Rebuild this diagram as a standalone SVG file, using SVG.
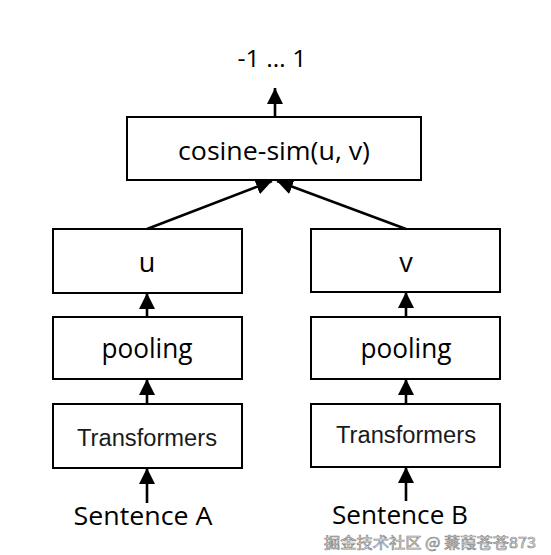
<svg xmlns="http://www.w3.org/2000/svg" width="551" height="555" viewBox="0 0 551 555">
<style>
.box{fill:#fff;stroke:#000;stroke-width:2}
.c{font-family:"Open Sans","Liberation Sans",sans-serif;fill:#000;text-anchor:middle}
.a{font-family:"Liberation Sans",Arial,sans-serif;fill:#1a1a1a;text-anchor:middle}
.ln{stroke:#000;stroke-width:2.6;fill:none}
.wm{font-family:"Noto Sans CJK SC","Liberation Sans",sans-serif;fill:#fff;stroke:#8a8a8a;stroke-width:0.7;font-size:15px}
</style>
<defs>
<marker id="ah" viewBox="0 0 10 10" refX="10" refY="5" markerWidth="16" markerHeight="16" markerUnits="userSpaceOnUse" orient="auto">
<path d="M0,0 L10,5 L0,10 Z" fill="#000"/>
</marker>
</defs>
<rect width="551" height="555" fill="#fff"/>
<text class="c" x="272" y="67" font-size="23" textLength="69" lengthAdjust="spacingAndGlyphs">-1 … 1</text>
<g id="cos"><rect class="box" x="127" y="117" width="294" height="63"/><text class="c" x="274" y="160" font-size="26" textLength="192" lengthAdjust="spacingAndGlyphs">cosine-sim(u, v)</text></g>
<g id="u"><rect class="box" x="53" y="229" width="189" height="64"/><text class="c" x="147" y="272" font-size="27">u</text></g>
<g id="poolA"><rect class="box" x="53" y="317" width="189" height="62"/><text class="c" x="147" y="358" font-size="27" textLength="91" lengthAdjust="spacingAndGlyphs">pooling</text></g>
<g id="transA"><rect class="box" x="53" y="404" width="189" height="64"/><text class="a" x="147" y="446" font-size="23" textLength="140" lengthAdjust="spacingAndGlyphs">Transformers</text></g>
<g id="v"><rect class="box" x="311" y="229" width="189" height="63"/><text class="c" x="406" y="272" font-size="27">v</text></g>
<g id="poolB"><rect class="box" x="311" y="317" width="189" height="62"/><text class="c" x="406" y="358" font-size="27" textLength="91" lengthAdjust="spacingAndGlyphs">pooling</text></g>
<g id="transB"><rect class="box" x="311" y="404" width="189" height="63"/><text class="a" x="406" y="443" font-size="23" textLength="140" lengthAdjust="spacingAndGlyphs">Transformers</text></g>
<g id="sA"><text class="c" x="143" y="525" font-size="26" textLength="139" lengthAdjust="spacingAndGlyphs">Sentence A</text></g>
<g id="sB"><text class="c" x="400" y="524" font-size="26" textLength="136" lengthAdjust="spacingAndGlyphs">Sentence B</text></g>
<g id="connectors">
<line class="ln" x1="275" y1="117" x2="275" y2="88" marker-end="url(#ah)"/>
<line class="ln" x1="147" y1="229" x2="272" y2="181" marker-end="url(#ah)"/>
<line class="ln" x1="406" y1="229" x2="277" y2="181" marker-end="url(#ah)"/>
<line class="ln" x1="147" y1="317" x2="147" y2="293" marker-end="url(#ah)"/>
<line class="ln" x1="147" y1="404" x2="147" y2="379" marker-end="url(#ah)"/>
<line class="ln" x1="147" y1="503" x2="147" y2="468" marker-end="url(#ah)"/>
<line class="ln" x1="406" y1="317" x2="406" y2="292" marker-end="url(#ah)"/>
<line class="ln" x1="406" y1="404" x2="406" y2="379" marker-end="url(#ah)"/>
<line class="ln" x1="406" y1="501" x2="406" y2="467" marker-end="url(#ah)"/>
</g>
<text class="wm" x="324" y="548" textLength="212" lengthAdjust="spacingAndGlyphs">掘金技术社区 @ 蒹葭苍苍873</text>
</svg>
